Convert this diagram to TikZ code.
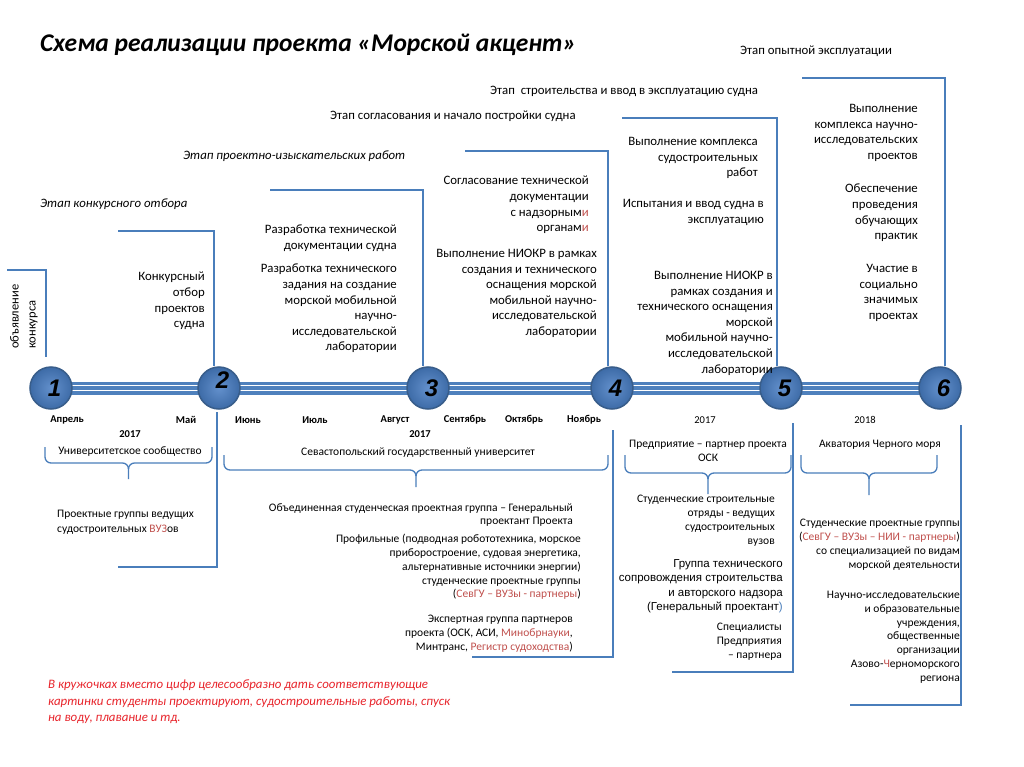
\documentclass[tikz,border=0pt]{standalone}
\usepackage{fontspec}
\setmainfont{Carlito}
\newfontfamily\arialfont{Liberation Sans}
\usetikzlibrary{positioning}
\definecolor{lineblue}{HTML}{4A7EBB}
\definecolor{bandblue}{HTML}{4F81BD}
\definecolor{ballin}{HTML}{6390CC}
\definecolor{ballout}{HTML}{3D6BA7}
\definecolor{ballrim}{HTML}{385D8A}
\definecolor{accred}{HTML}{C0504D}
\definecolor{notered}{HTML}{E8242B}
\tikzset{stage/.style={draw=lineblue,line width=1.3pt},
  ball/.style={circle,minimum size=42pt,inner sep=0pt,draw=ballrim,line width=1.5pt,inner color=ballin,outer color=ballout},
  digit/.style={font=\arialfont\bfseries\itshape\fontsize{24}{24}\selectfont,inner sep=0pt,xshift=3.5pt},
  upper/.style={font=\fontsize{12.8}{15.6}\selectfont,inner sep=0pt,align=right,anchor=north east},
  lower/.style={font=\fontsize{11.5}{13.8}\selectfont,inner sep=0pt,align=right,anchor=north east},
  phase/.style={font=\fontsize{12.8}{14}\selectfont,inner sep=0pt,anchor=west},
  month/.style={font=\bfseries\fontsize{10.5}{12}\selectfont,inner sep=0pt}}
% brace opening downwards: x1, x2, y of ends, y of bar, y of tip
\newcommand{\ubrace}[5]{%
  \pgfmathsetmacro\bmid{(#1+#2)/2}%
  \pgfmathsetmacro\bup{#4-6}\pgfmathsetmacro\bdn{#4+6}%
  \pgfmathsetmacro\bla{#1+6}\pgfmathsetmacro\bra{#2-6}%
  \pgfmathsetmacro\bml{\bmid-6}\pgfmathsetmacro\bmr{\bmid+6}%
  \draw[stage] (#1,#3) -- (#1,\bup) to[out=-90,in=180] (\bla,#4) -- (\bml,#4)
    to[out=0,in=90] (\bmid,\bdn) -- (\bmid,#5);
  \draw[stage] (#2,#3) -- (#2,\bup) to[out=-90,in=0] (\bra,#4) -- (\bmr,#4)
    to[out=180,in=90] (\bmid,\bdn);}

\begin{document}
\begin{tikzpicture}[x=1pt,y=-1pt]
  \useasboundingbox[fill=white] (0,0) rectangle (1024,767);

  \node[anchor=west,inner sep=0pt,font=\bfseries\itshape\fontsize{25.5}{28}\selectfont] (title) at (40,45) {Схема реализации проекта «Морской акцент»};

  % stages
  \node[phase,font=\itshape\fontsize{12.8}{14}\selectfont] (ph1) at (40,204) {Этап конкурсного отбора};
  \node[phase,font=\itshape\fontsize{12.8}{14}\selectfont] (ph2) at (183,156) {Этап проектно-изыскательских работ};
  \node[phase] (ph3) at (330,116) {Этап согласования и начало постройки судна};
  \node[phase] (ph4) at (490,91) {Этап\ \ строительства и ввод в эксплуатацию судна};
  \node[phase] (ph5) at (740,51) {Этап опытной эксплуатации};

  % timeline
  \path (51,388) coordinate (tl) (940,388) coordinate (tr);
  \draw[bandblue,line width=13pt] (tl) -- (tr);
  \draw[white,line width=1.4pt] ([yshift=2.6pt]tl) -- ([yshift=2.6pt]tr)
    ([yshift=-2.6pt]tl) -- ([yshift=-2.6pt]tr);
  \foreach \n/\x/\dy in {1/51/0,2/219/8,3/428/0,4/612/0,5/781/0,6/940/0}{
    \node[ball] (c\n) at (\x,388) {};
    \node[digit,yshift=\dy pt] (d\n) at (c\n) {\n};
  }

  % upper connectors
  \path (7,270) coordinate (t1) (118,231) coordinate (t2) (270,190) coordinate (t3)
    (465,151) coordinate (t4) (622,118) coordinate (t5) (802,78) coordinate (t6);
  \draw[stage,shorten >=9pt] (t1) -| ([xshift=-5pt]c1.north);
  \draw[stage] (t2) -| ([xshift=-5pt]c2.north);
  \draw[stage] (t3) -| ([xshift=-5pt]c3.north);
  \draw[stage] (t4) -| ([xshift=-4pt]c4.north);
  \draw[stage] (t5) -| ([xshift=-4pt]c5.north);
  \draw[stage] (t6) -| ([xshift=5pt]c6.north);

  \node[upper,rotate=90,align=left,anchor=north west,font=\fontsize{12.5}{17}\selectfont] (obyav) at (10,349) {объявление\\конкурса};
  \node[upper] (konk) at (205,272) {Конкурсный\\отбор\\проектов\\судна};
  \node[upper] (razr1) at (397,225) {Разработка технической\\документации судна};
  \node[upper] (razr2) at (397,264) {Разработка технического\\задания на создание\\морской мобильной\\научно-\\исследовательской\\лаборатории};
  \node[upper] (sogl) at (589,176) {Согласование технической\\документации\\с надзорным\textcolor{accred}{и}\\орган{\large а}м\textcolor{accred}{и}};
  \node[upper] (niokr1) at (597,249) {Выполнение НИОКР в рамках\\создания и технического\\оснащения морской\\мобильной научно-\\исследовательской\\лаборатории};
  \node[upper] (sudo) at (758,137) {Выполнение комплекса\\судостроительных\\работ};
  \node[upper] (ispyt) at (764,199) {Испытания и ввод судна в\\эксплуатацию};
  \node[upper] (niokr2) at (773,271) {Выполнение НИОКР в\\рамках создания и\\технического оснащения\\морской\\мобильной научно-\\исследовательской\\лаборатории};
  \node[upper] (nauch) at (918,104) {Выполнение\\комплекса научно-\\исследовательских\\проектов};
  \node[upper] (prakt) at (918,184) {Обеспечение\\проведения\\обучающих\\практик};
  \node[upper] (soc) at (918,264) {Участие в\\социально\\значимых\\проектах};

  % months
  \node[month] (apr) at (67,420) {Апрель};
  \node[month] (may) at (186,420) {Май};
  \node[month] (jun) at (248,420) {Июнь};
  \node[month] (jul) at (315,420) {Июль};
  \node[month] (aug) at (395,420) {Август};
  \node[month] (sep) at (465,420) {Сентябрь};
  \node[month] (oct) at (524,420) {Октябрь};
  \node[month] (nov) at (584,420) {Ноябрь};
  \node[month] (y1) at (130,434) {2017};
  \node[month] (y2) at (420,434) {2017};
  \node[month,font=\fontsize{10.5}{12}\selectfont] (y3) at (705,420) {2017};
  \node[month,font=\fontsize{10.5}{12}\selectfont] (y4) at (865,420) {2018};

  % lower connectors and braces
  \path (217,412) coordinate (b2) (118,567) coordinate (f2)
    (613,430) coordinate (b4) (472,657) coordinate (f4)
    (793,423) coordinate (b5) (672,672) coordinate (f5)
    (961,425) coordinate (b6) (850,705) coordinate (f6);
  \draw[stage] (b2) |- (f2);
  \draw[stage] (b4) |- (f4);
  \draw[stage] (b5) |- (f5);
  \draw[stage] (b6) |- (f6);
  \ubrace{45}{212}{447}{463}{479}
  \ubrace{224}{608}{455}{470}{487}
  \ubrace{625}{791}{455}{473}{494}
  \ubrace{801}{937}{455}{473}{495}

  \node[lower,anchor=center] (univ) at (130,452) {Университетское сообщество};
  \node[lower,align=left,anchor=north west,font=\fontsize{11.5}{14.5}\selectfont] (vuz) at (57,510) {Проектные группы ведущих\\судостроительных \textcolor{accred}{ВУЗ}ов};
  \node[lower,anchor=center] (sevgu) at (418,453) {Севастопольский государственный университет};
  \node[lower] (obed) at (573,503) {Объединенная студенческая проектная группа – Генеральный\\проектант Проекта};
  \node[lower] (prof) at (581,534) {Профильные (подводная робототехника, морское\\приборостроение, судовая энергетика,\\альтернативные источники энергии)\\студенческие проектные группы\\(\textcolor{accred}{СевГУ – ВУЗы - партнеры})};
  \node[lower] (ekspert) at (573,615) {Экспертная группа партнеров\\проекта (ОСК, АСИ, \textcolor{accred}{Минобрнауки},\\Минтранс, \textcolor{accred}{Регистр судоходства})};
  \node[lower,align=center,anchor=center] (osk) at (708,451) {Предприятие – партнер проекта\\ОСК};
  \node[lower] (otryad) at (775,495) {Студенческие строительные\\отряды - ведущих\\судостроительных\\вузов};
  \node[lower,font=\arialfont\fontsize{11.5}{14.5}\selectfont] (grp) at (783,559) {Группа технического\\сопровождения строительства\\и авторского надзора\\(Генеральный проектант\textcolor{lineblue}{)}};
  \node[lower] (spec) at (782,623) {Специалисты\\Предприятия\\– партнера};
  \node[lower,anchor=center] (akva) at (880,445) {Акватория Черного моря};
  \node[lower] (stud6) at (960,519) {Студенческие проектные группы\\(\textcolor{accred}{СевГУ – ВУЗы – НИИ - партнеры})\\со специализацией по видам\\морской деятельности};
  \node[lower] (nii) at (960,591) {Научно-исследовательские\\и образовательные\\учреждения,\\общественные\\организации\\Азово-\textcolor{accred}{Ч}ерноморского\\региона};

  \node[lower,align=left,anchor=north west,text=notered,font=\itshape\fontsize{12.9}{16.5}\selectfont] (note) at (48,680) {В кружочках вместо цифр целесообразно дать соответствующие\\картинки студенты проектируют, судостроительные работы, спуск\\на воду, плавание и тд.};
\end{tikzpicture}
\end{document}
